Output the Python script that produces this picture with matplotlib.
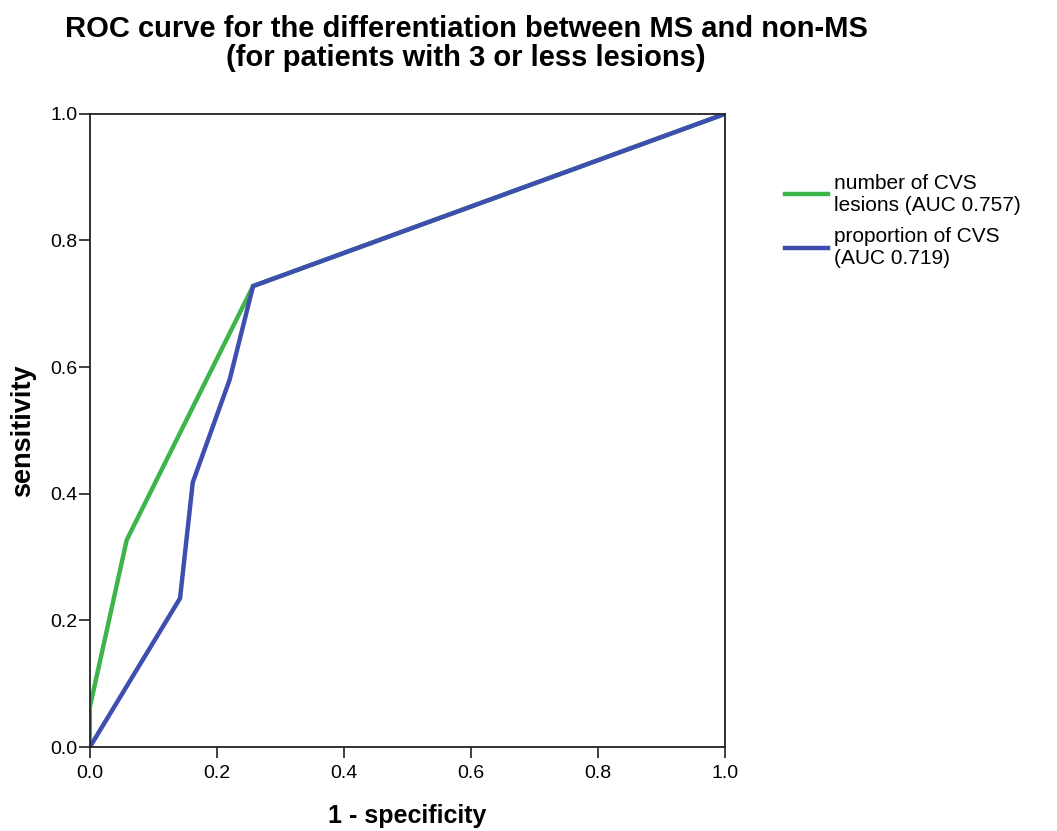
import matplotlib
matplotlib.use("Agg")
import matplotlib.pyplot as plt

plt.rcParams['font.family'] = ['Liberation Sans', 'DejaVu Sans']

# ROC points
fpr_count = [0.0, 0.0, 0.058, 0.257, 1.0]
tpr_count = [0.0, 0.063, 0.327, 0.728, 1.0]
fpr_prop = [0.0, 0.142, 0.162, 0.22, 0.257, 1.0]
tpr_prop = [0.0, 0.235, 0.418, 0.58, 0.728, 1.0]
labels = ['number of CVS\nlesions (AUC 0.757)', 'proportion of CVS\n(AUC 0.719)']
ticks = [0.0, 0.2, 0.4, 0.6, 0.8, 1.0]

fig = plt.figure(figsize=(10.57, 8.31), dpi=100)
ax = fig.add_axes([0.085, 0.101, 0.601, 0.762])

ax.plot(fpr_count, tpr_count, color='#3db54a', lw=3.2, label=labels[0], solid_joinstyle='miter')
ax.plot(fpr_prop, tpr_prop, color='#3e4fb0', lw=3.2, label=labels[1], solid_joinstyle='miter')

ax.set_xlim(0, 1)
ax.set_ylim(0, 1)
ax.set_xticks(ticks)
ax.set_yticks(ticks)
ax.set_xticklabels(['%.1f' % t for t in ticks], fontsize=14)
ax.set_yticklabels(['%.1f' % t for t in ticks], fontsize=14)
ax.tick_params(direction='out', length=8, width=1.3, color='#333333')
ax.tick_params(axis='x', pad=5)
ax.tick_params(axis='y', pad=1)
for s in ax.spines.values():
    s.set_linewidth(1.3)
    s.set_color('#222222')

ax.set_xlabel('1 - specificity', fontsize=18, fontweight='bold', labelpad=16)
ax.set_ylabel('sensitivity', fontsize=19.5, fontweight='bold', labelpad=10)

fig.text(0.441, 0.948, 'ROC curve for the differentiation between MS and non-MS\n(for patients with 3 or less lesions)',
         ha='center', va='center', fontsize=21, fontweight='bold', linespacing=1.05)

fig.legend(loc='upper left', bbox_to_anchor=(0.735, 0.801), frameon=False, fontsize=15,
           handlelength=2.07, handletextpad=0.25, labelspacing=0.6, borderaxespad=0)

fig.savefig('out.png', dpi=100)
